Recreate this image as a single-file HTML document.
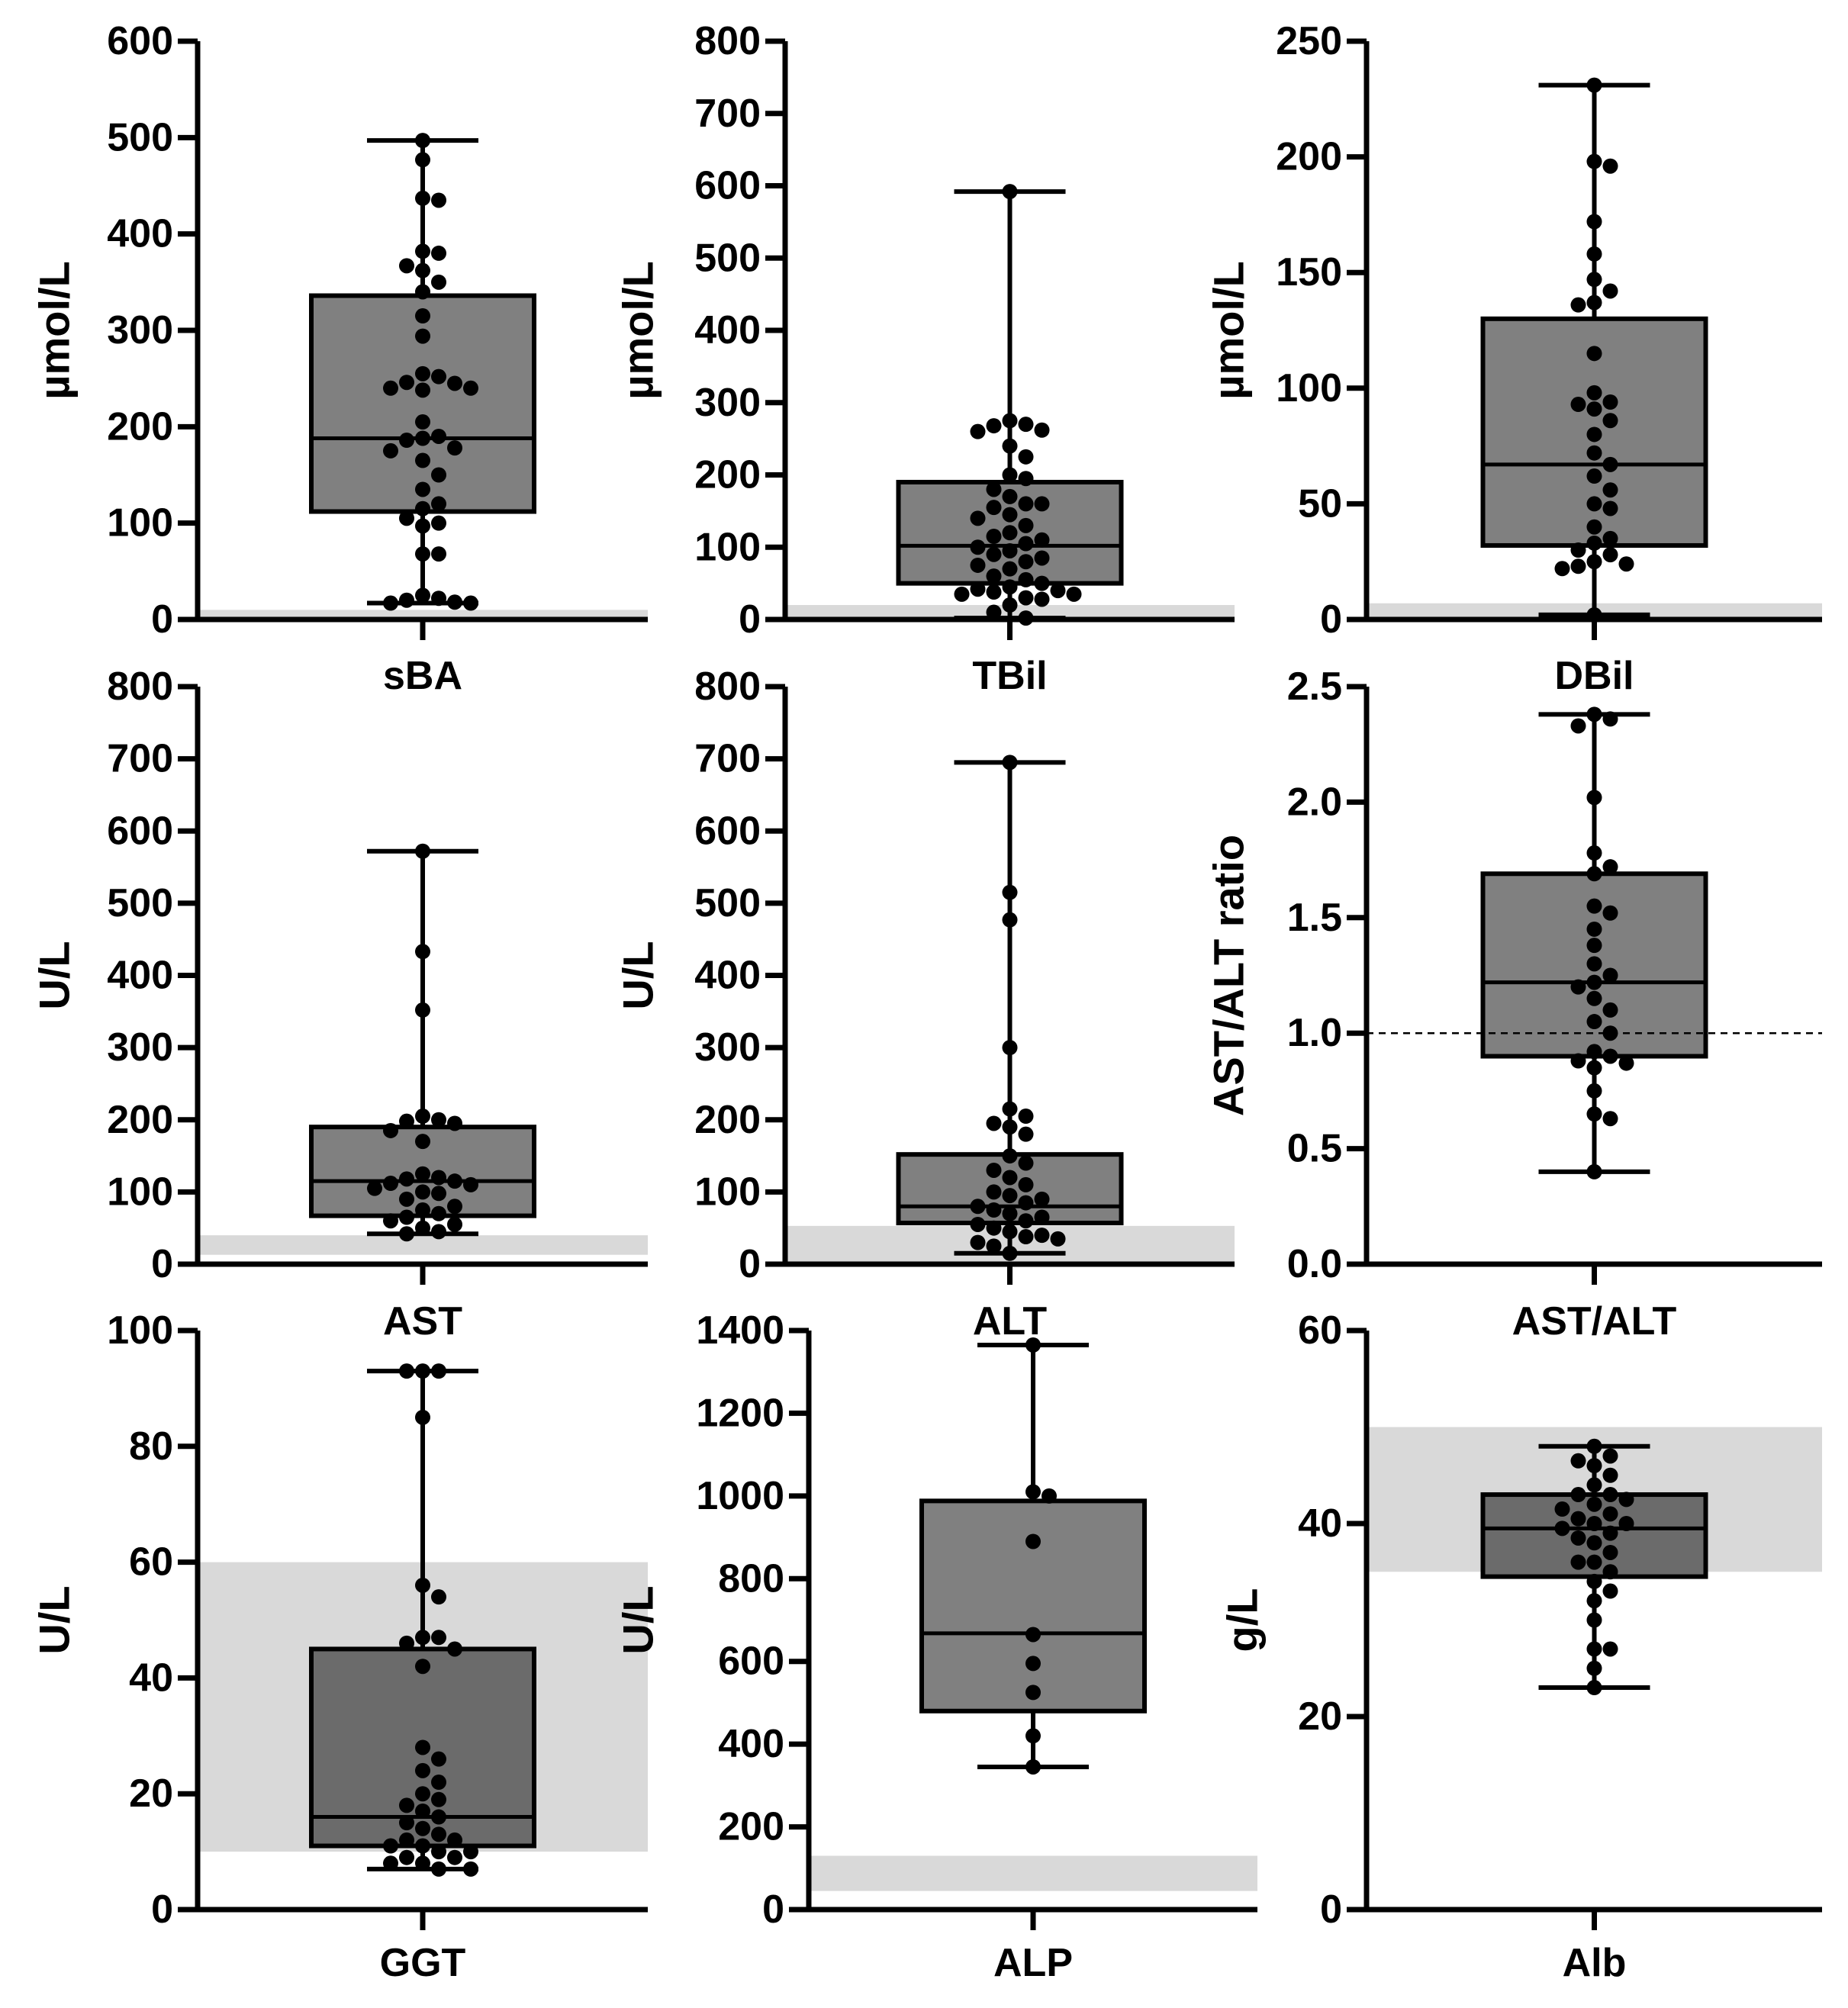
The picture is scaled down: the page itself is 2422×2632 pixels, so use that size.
<!DOCTYPE html>
<html><head><meta charset="utf-8"><style>
body{margin:0;background:#fff}
svg text{font-family:"Liberation Sans",Arial,sans-serif;font-weight:bold;fill:#000}
</style></head><body>
<svg id="chart" width="2422" height="2627" viewBox="0 0 2422 2627" xmlns="http://www.w3.org/2000/svg"></svg>
<script>
const panelNames = ["sBA","TBil","DBil","AST","ALT","AST/ALT","GGT","ALP","Alb"];
const panelUnits = ["µmol/L","µmol/L","µmol/L","U/L","U/L","AST/ALT ratio","U/L","U/L","g/L"];
const yMax = [600,800,250,800,800,2.5,100,1400,60];
const tickStep = [100,100,50,100,100,0.5,20,200,20];
const tickDecimals = [0,0,0,0,0,1,0,0,0];
const bandLow = [0,0,0,13,0,null,10,45,35];
const bandHigh = [10,20,7,40,53,null,60,130,50];
const refLine = [null,null,null,null,null,1.0,null,null,null];
// five-number summary: min, q1, median, q3, max
const statMin = [17,2,2,42,15,0.40,7,345,23];
const statQ1 = [112,50,32,67,57,0.90,11,480,34.5];
const statMed = [188,102,67,115,80,1.22,16,668,39.5];
const statQ3 = [336,190,130,190,152,1.69,45,988,43];
const statMax = [497,592,231,572,695,2.38,93,1365,48];
const pointsSBA = [497,477,437,435,382,380,367,362,350,340,315,294,255,252,246,245,240,240,238,205,190,188,186,175,178,165,150,135,120,115,105,100,97,68,68,25,22,20,18,17,17];
const pointsTBil = [592,275,270,268,262,260,240,225,200,195,180,170,160,160,155,145,140,130,120,115,110,105,100,95,90,85,80,75,70,60,55,50,45,42,40,38,35,35,30,28,20,10,2];
const pointsDBil = [231,198,196,172,158,147,142,137,136,115,98,94,93,91,86,80,72,67,62,56,50,48,40,35,33,30,28,25,24,23,22,2];
const pointsAST = [572,433,352,205,200,198,195,185,170,125,120,118,115,112,110,105,100,98,90,80,75,70,65,60,55,50,45,42];
const pointsALT = [695,515,477,300,215,205,195,190,180,150,140,130,120,110,100,95,90,85,80,75,70,65,60,55,50,45,40,38,35,30,25,15];
const pointsRatio = [2.38,2.36,2.33,2.02,1.78,1.72,1.69,1.55,1.52,1.45,1.38,1.30,1.25,1.22,1.20,1.15,1.10,1.05,1.0,0.92,0.90,0.88,0.87,0.85,0.75,0.65,0.63,0.40];
const pointsGGT = [93,93,93,85,56,54,47,47,46,45,42,28,26,24,22,20,19,18,17,16,15,14,13,12,12,11,11,10,10,9,9,8,8,7,7];
const pointsALP = [1365,1010,1000,890,665,595,525,420,345];
const pointsAlb = [48,47,46.5,46,45,44,43,43,42.5,42,41.5,41,40.5,40,40,39.5,39,38.5,38,37,36,36,35,34,33,32,30,27,27,25,23];
const allPoints = [pointsSBA,pointsTBil,pointsDBil,pointsAST,pointsALT,pointsRatio,pointsGGT,pointsALP,pointsAlb];

// layout
const axisX = [259,1029,1791, 259,1029,1791, 259,1060,1791];
const axisEnd = [849,1618,2388, 849,1618,2388, 849,1648,2388];
const rowTop = [54,900,1744], rowBot = [812,1657,2503];
const titleX = [71,836,1610, 71,836,1610, 71,836,1628];
const catY = [886,1732,2573];
const svg = document.getElementById('chart');
const NS = 'http://www.w3.org/2000/svg';
function mk(tag, attrs, parent){const e=document.createElementNS(NS,tag);for(const k in attrs)e.setAttribute(k,attrs[k]);(parent||svg).appendChild(e);return e;}

for(let p=0;p<9;p++){
  const r=Math.floor(p/3);
  const g=mk('g',{});
  
  
  const x0=axisX[p], x1=axisEnd[p], top=rowTop[r], bot=rowBot[r];
  const cx=(x0+x1)/2;
  const y=v=>bot-(v/yMax[p])*(bot-top);
  if(bandLow[p]!==null){
    const b=mk('rect',{x:x0,y:y(bandHigh[p]),width:x1-x0,height:y(bandLow[p])-y(bandHigh[p]),fill:'#d9d9d9'},g);
    
    
  }
  const bw=146, cw=73;
  const dark=(p===6||p===8);
  const box=mk('rect',{x:cx-bw,y:y(statQ3[p]),width:2*bw,height:y(statQ1[p])-y(statQ3[p]),fill:dark?'#6b6b6b':'#808080',stroke:'#000','stroke-width':6},g);
  
  
  const med=mk('line',{x1:cx-bw,x2:cx+bw,y1:y(statMed[p]),y2:y(statMed[p]),stroke:'#000','stroke-width':5},g);
  
  
  const wk=mk('path',{d:`M${cx},${y(statQ3[p])}V${y(statMax[p])}M${cx},${y(statQ1[p])}V${y(statMin[p])}M${cx-cw},${y(statMax[p])}H${cx+cw}M${cx-cw},${y(statMin[p])}H${cx+cw}`,stroke:'#000','stroke-width':6,fill:'none'},g);
  
  
  if(refLine[p]!==null){
    const rl=mk('line',{x1:x0,x2:x1,y1:y(refLine[p]),y2:y(refLine[p]),stroke:'#000','stroke-width':2.5,'stroke-dasharray':'9,7'},g);
    
    
  }
  const rad=10, placed=[];
  const sorted=allPoints[p].slice().sort((a,b)=>b-a);
  for(const v of sorted){
    const py=y(v); let px=cx;
    for(let k=0;k<40;k++){
      const off=(k===0?0:Math.ceil(k/2)*(k%2?1:-1))*2*rad*1.05;
      const tx=cx+off;
      if(placed.every(q=>Math.hypot(q[0]-tx,q[1]-py)>=2*rad*1.0)){px=tx;break;}
    }
    placed.push([px,py]);
    const c=mk('circle',{cx:px,cy:py,r:rad,fill:'#000'},g);
    
    
  }
  const ax=mk('path',{d:`M${x0},${top}V${bot}H${x1}M${cx},${bot}v27`,stroke:'#000','stroke-width':7,fill:'none'},g);
  
  
  const n=Math.round(yMax[p]/tickStep[p]);
  for(let i=0;i<=n;i++){
    const v=i*tickStep[p];
    mk('line',{x1:x0-26,x2:x0,y1:y(v),y2:y(v),stroke:'#000','stroke-width':7},g);
    const t=mk('text',{x:x0-32,y:y(v),'text-anchor':'end','dominant-baseline':'central','font-size':52},g);
    t.textContent=v.toFixed(tickDecimals[p]);
    
    
  }
  const yt=mk('text',{x:titleX[p],y:(top+bot)/2,'text-anchor':'middle','dominant-baseline':'central','font-size':56,transform:`rotate(-90 ${titleX[p]} ${(top+bot)/2})`},g);
  yt.textContent=panelUnits[p];
  
  
  const xt=mk('text',{x:cx,y:catY[r],'text-anchor':'middle','dominant-baseline':'central','font-size':52},g);
  xt.textContent=panelNames[p];
  
  
}
</script>
</body></html>
